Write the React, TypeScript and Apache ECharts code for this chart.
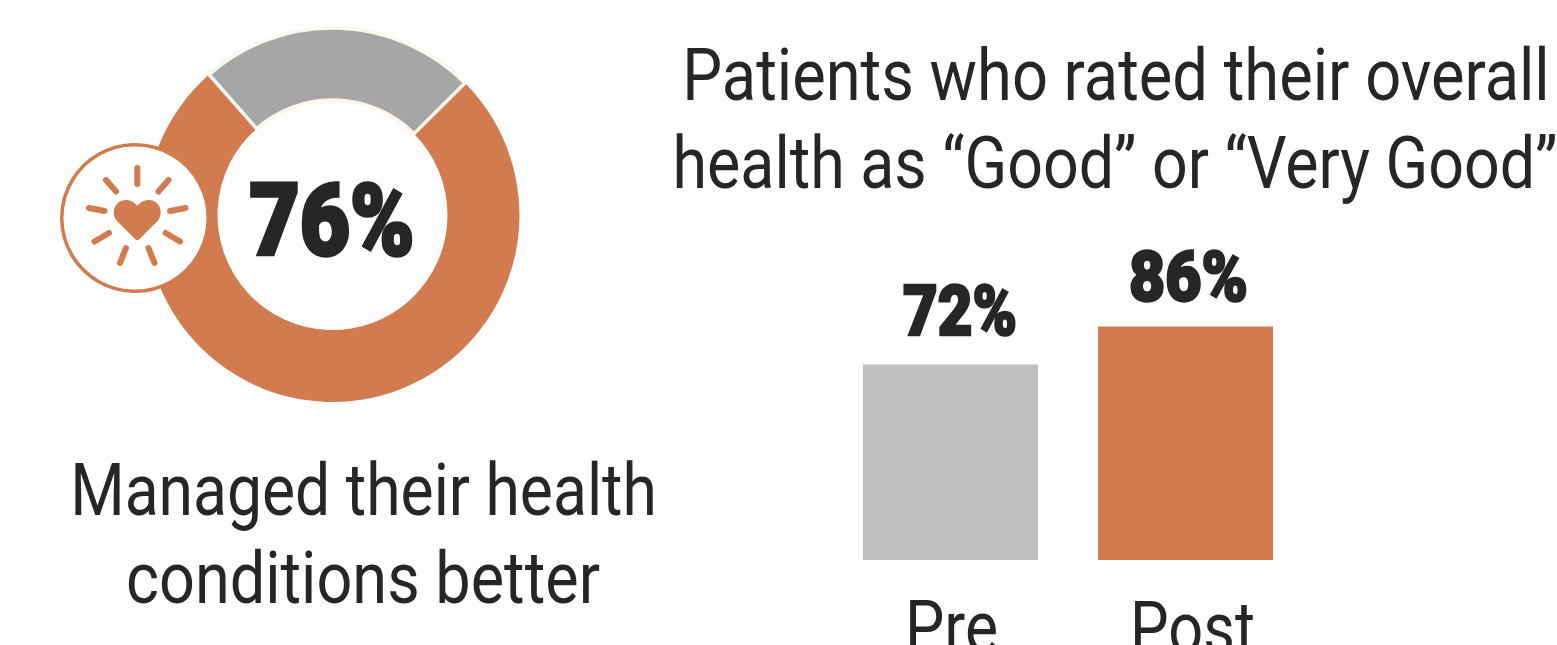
import React, { useEffect, useRef } from "react";
import * as echarts from "echarts";

const ORANGE = "#D17B4E";
const TEXT = "#262626";
const donutNames = ["Managed better", "Other"];
const donutValues = [76, 24];
const barCategories = ["Pre", "Post"];
const barValues = [72, 86];
const titleLines = ["Patients who rated their overall", "health as “Good” or “Very Good”"];
const captionLines = ["Managed their health", "conditions better"];
const rays = [
  [137.3, 168, 137.3, 184], [168.5, 180, 158.5, 191.5], [106, 180, 116, 191.5],
  [89, 208, 104.5, 211], [185.5, 208, 170, 211], [109, 233, 94.5, 241.5],
  [165.5, 233, 180, 241.5], [126, 248, 120, 263], [148.5, 248, 154.5, 263],
];

echarts.graphic.registerShape(
  "heart",
  echarts.graphic.extendPath(
    "M70 121 C68 121 66 120 64 118 L9 63 C-12 38 4 0 36 0 C50 0 62 7 70 18 C78 7 90 0 104 0 C136 0 152 38 131 63 L76 118 C74 120 72 121 70 121 Z",
    {}
  ) as any
);

const SANS = "Roboto, 'Liberation Sans', sans-serif";

const measureCtx = document.createElement("canvas").getContext("2d")!;
function fitScale(t: string, font: string, target: number) {
  measureCtx.font = font;
  return target / measureCtx.measureText(t).width;
}

export default function App() {
  const ref = useRef<HTMLDivElement>(null);
  useEffect(() => {
    document.body.style.margin = "0";
    document.body.style.overflow = "hidden";
    const chart = echarts.init(ref.current!, undefined, { renderer: "svg" });
    const plain = (t: string, x: number, y: number, width: number) => {
      const font = `400 73px ${SANS}`;
      return {
        type: "text", x, y, z: 100, scaleX: fitScale(t, font, width),
        style: { text: t, fill: TEXT, font, textAlign: "center", textVerticalAlign: "bottom" },
      };
    };
    const heavy = (t: string, x: number, y: number, size: number, width: number, stroke: number) => {
      const font = `900 ${size}px ${SANS}`;
      return {
        type: "text", x, y, z: 100, scaleX: fitScale(t, font, width),
        style: { text: t, fill: TEXT, font, textAlign: "center", textVerticalAlign: "middle", stroke: TEXT, lineWidth: stroke },
      };
    };
    chart.setOption({
      animation: false,
      backgroundColor: "#ffffff",
      grid: { left: 833, width: 470, top: 288.5, height: 271.5, outerBoundsMode: "none" },
      xAxis: {
        type: "category", data: barCategories,
        axisLine: { show: false }, axisTick: { show: false }, axisLabel: { show: false },
      },
      yAxis: { type: "value", min: 0, max: 100, show: false },
      series: [
        {
          type: "pie", center: [332.5, 215], radius: [115, 187], startAngle: 44.9, silent: true,
          label: { show: false }, labelLine: { show: false }, clockwise: true,
          data: [
            { name: donutNames[0], value: donutValues[0], itemStyle: { color: ORANGE } },
            { name: donutNames[1], value: donutValues[1], itemStyle: { color: "#A6A6A6", borderColor: "#FDF6EE", borderWidth: 3.5 } },
          ],
        },
        {
          type: "bar", barWidth: 175, silent: true,
          data: barValues.map((v, i) => ({ value: v, itemStyle: { color: i === 0 ? "#BFBFBF" : ORANGE } })),
        },
      ],
    });
    // Bar value and category labels are placed from the axis scales.
    const labelShift = [[9.5, -54], [3, -50]];
    const labelWidth = [114, 119];
    const catShift = [1, 7];
    const catWidth = [93, 125];
    const barLabels = barValues.map((v, i) => {
      const [px, py] = chart.convertToPixel({ seriesIndex: 1 }, [i, v]) as number[];
      return heavy(`${v}%`, px + labelShift[i][0], py + labelShift[i][1], 71, labelWidth[i], 2.5);
    });
    const catLabels = barCategories.map((c, i) => {
      const [px, py] = chart.convertToPixel({ seriesIndex: 1 }, [i, 0]) as number[];
      return plain(c, px + catShift[i], py + 104, catWidth[i]);
    });
    chart.setOption({
      graphic: [
        plain(titleLines[0], 1116, 112, 868),
        plain(titleLines[1], 1115, 200, 885),
        plain(captionLines[0], 363.5, 527, 587),
        plain(captionLines[1], 363, 615, 474),
        heavy(`${donutValues[0]}%`, 332, 221, 100, 165, 3.5),
        ...barLabels,
        ...catLabels,
        { type: "circle", z: 100, shape: { cx: 135, cy: 218, r: 73.25 }, style: { fill: "#fff", stroke: ORANGE, lineWidth: 3.5 } },
        { type: "heart", z: 101, x: 114, y: 200, scaleX: 1 / 3, scaleY: 1 / 3, style: { fill: ORANGE } },
        ...rays.map((r) => ({
          type: "line", z: 101, shape: { x1: r[0], y1: r[1], x2: r[2], y2: r[3] },
          style: { stroke: ORANGE, lineWidth: 6, lineCap: "round" },
        })),
      ],
    });
    return () => chart.dispose();
  }, []);
  return <div ref={ref} style={{ width: 1557, height: 645 }} />;
}
